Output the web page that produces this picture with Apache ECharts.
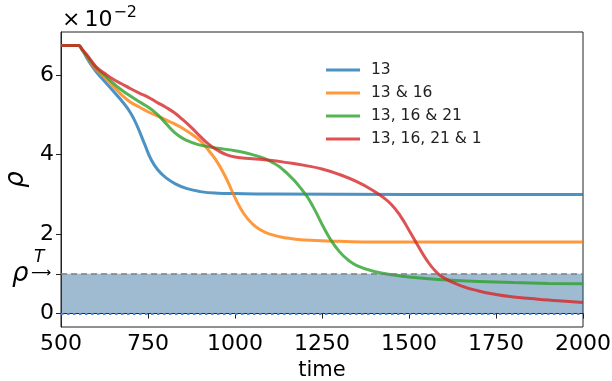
<!DOCTYPE html>
<html>
<head>
<meta charset="utf-8">
<script src="https://cdn.jsdelivr.net/npm/echarts@6/dist/echarts.min.js"></script>
<style>
  html, body { margin: 0; padding: 0; background: #fff; }
</style>
</head>
<body>
<div id="rhoChart" style="width: 612px; height: 381px;"></div>
<script>
  // time samples and rho values (x 1e-2) for each set of removed nodes
  const time13 = [500, 550, 560, 580, 600, 625, 650, 675, 700, 720, 740, 760, 780, 800, 830, 860, 900, 950, 1000, 1100, 1500, 2000];
  const rho13 = [6.75, 6.75, 6.65, 6.35, 6.1, 5.85, 5.6, 5.35, 5.05, 4.7, 4.27, 3.86, 3.6, 3.43, 3.26, 3.15, 3.07, 3.03, 3.02, 3.01, 3.0, 3.0];

  const time1316 = [500, 550, 560, 580, 600, 625, 650, 675, 700, 725, 750, 775, 800, 825, 850, 875, 900, 925, 950, 975, 1000, 1025, 1050, 1075, 1100, 1150, 1200, 1300, 1400, 2000];
  const rho1316 = [6.75, 6.75, 6.65, 6.4, 6.15, 5.95, 5.72, 5.5, 5.32, 5.2, 5.08, 4.98, 4.88, 4.78, 4.66, 4.52, 4.35, 4.1, 3.8, 3.4, 2.92, 2.52, 2.26, 2.1, 2.0, 1.9, 1.85, 1.82, 1.8, 1.8];

  const time131621 = [500, 550, 560, 580, 600, 625, 650, 675, 700, 725, 750, 775, 800, 825, 850, 875, 900, 950, 1000, 1050, 1100, 1150, 1200, 1225, 1250, 1275, 1300, 1325, 1350, 1400, 1450, 1500, 1600, 1700, 1800, 1900, 2000];
  const rho131621 = [6.75, 6.75, 6.65, 6.42, 6.2, 6.0, 5.8, 5.62, 5.47, 5.33, 5.2, 5.03, 4.8, 4.57, 4.41, 4.31, 4.24, 4.16, 4.1, 4.0, 3.84, 3.53, 3.03, 2.68, 2.25, 1.86, 1.56, 1.35, 1.21, 1.06, 0.98, 0.92, 0.85, 0.81, 0.78, 0.76, 0.75];

  const time1316211 = [500, 550, 560, 580, 600, 625, 650, 675, 700, 725, 750, 775, 800, 825, 850, 875, 900, 925, 950, 975, 1000, 1050, 1100, 1150, 1200, 1250, 1300, 1350, 1400, 1425, 1450, 1475, 1500, 1525, 1550, 1575, 1600, 1650, 1700, 1750, 1800, 1850, 1900, 1950, 2000];
  const rho1316211 = [6.75, 6.75, 6.66, 6.45, 6.22, 6.05, 5.9, 5.78, 5.66, 5.55, 5.45, 5.32, 5.2, 5.06, 4.88, 4.68, 4.46, 4.26, 4.11, 4.0, 3.94, 3.9, 3.86, 3.8, 3.73, 3.64, 3.5, 3.32, 3.08, 2.93, 2.74, 2.46, 2.1, 1.72, 1.36, 1.08, 0.9, 0.7, 0.57, 0.48, 0.42, 0.38, 0.34, 0.31, 0.28];

  const seriesNames = ['13', '13 & 16', '13, 16 & 21', '13, 16, 21 & 1'];
  const seriesColors = ['rgba(31,119,180,0.8)', 'rgba(255,127,14,0.8)', 'rgba(44,160,44,0.8)', 'rgba(214,39,40,0.8)'];

  const rhoThreshold = 1;
  const yTickLabels = [0, 2, 4, 6];
  const yTickMarks = [0, 1, 2, 4, 6];

  const font = 'DejaVu Sans';

  function pairs(ts, vs) {
    return ts.map((t, i) => [t, vs[i]]);
  }

  const allData = [
    pairs(time13, rho13),
    pairs(time1316, rho1316),
    pairs(time131621, rho131621),
    pairs(time1316211, rho1316211)
  ];

  let myChart = echarts.init(document.getElementById('rhoChart'));

  let series = allData.map((d, i) => ({
    name: seriesNames[i],
    type: 'line',
    data: d,
    smooth: 0.5,
    showSymbol: false,
    z: 2,
    lineStyle: { color: seriesColors[i], width: 3 },
    itemStyle: { color: seriesColors[i] }
  }));

  // shaded band below the threshold, drawn above the curves like the original
  series.push({
    name: 'band',
    type: 'line',
    data: [],
    z: 5,
    silent: true,
    markArea: {
      silent: true,
      itemStyle: { color: 'rgba(15,85,140,0.4)' },
      data: [[{ yAxis: 0 }, { yAxis: rhoThreshold }]]
    }
  });
  series.push({
    name: 'bounds',
    type: 'line',
    data: [],
    z: 6,
    silent: true,
    markLine: {
      silent: true,
      symbol: 'none',
      label: { show: false },
      data: [
        { yAxis: rhoThreshold, lineStyle: { color: '#7f7f7f', type: [6, 4], width: 1.5 } },
        { yAxis: 0, lineStyle: { color: '#4a7ff0', type: [2.5, 3.5], width: 2.2 } }
      ]
    }
  });

  myChart.setOption({
    animation: false,
    grid: {
      left: 61, right: 29, top: 32, bottom: 54,
      outerBoundsMode: 'none',
      containLabel: false,
      show: true, borderColor: '#222', borderWidth: 1, backgroundColor: 'transparent'
    },
    legend: {
      data: seriesNames,
      orient: 'vertical',
      left: 321,
      top: 57,
      icon: 'rect',
      itemWidth: 34,
      itemHeight: 3,
      itemGap: 7,
      textStyle: { fontFamily: font, fontSize: 15.5, color: '#222', padding: [0, 0, 0, 6] }
    },
    xAxis: {
      type: 'value',
      min: 500,
      max: 2000,
      interval: 250,
      name: 'time',
      nameLocation: 'middle',
      nameGap: 29,
      nameTextStyle: { fontFamily: font, fontSize: 21, color: '#000' },
      splitLine: { show: false },
      axisLine: { show: true, lineStyle: { color: '#222', width: 1 } },
      axisTick: { show: true, length: 5, lineStyle: { color: '#222' } },
      axisLabel: {
        fontFamily: font, fontSize: 22, color: '#000', margin: 6,
        showMinLabel: true, showMaxLabel: true, hideOverlap: false,
        formatter: v => String(v)
      }
    },
    yAxis: {
      type: 'value',
      min: -0.3375,
      max: 7.0875,
      name: 'ρ',
      nameLocation: 'middle',
      nameRotate: 90,
      nameGap: 27,
      nameTextStyle: { fontFamily: font, fontSize: 26, fontStyle: 'italic', color: '#000' },
      splitLine: { show: false },
      axisLine: { show: true, lineStyle: { color: '#222', width: 1 } },
      axisTick: { show: true, length: 5, lineStyle: { color: '#222' }, customValues: yTickMarks },
      axisLabel: { fontFamily: font, fontSize: 22, color: '#000', margin: 7, customValues: yTickLabels }
    },
    graphic: [
      {
        type: 'text',
        left: 62,
        top: 5,
        style: {
          text: '{x|×}{a|10}{b|−2}',
          rich: {
            x: { fontFamily: font, fontSize: 22, fill: '#000', verticalAlign: 'bottom', lineHeight: 26, padding: [0, 4, 0, 0] },
            a: { fontFamily: font, fontSize: 22, fill: '#000', verticalAlign: 'bottom', lineHeight: 26 },
            b: { fontFamily: font, fontSize: 16, fill: '#000', verticalAlign: 'top', lineHeight: 26, padding: [0, 0, 10, 1] }
          }
        }
      },
      {
        type: 'text',
        left: 12,
        top: 261,
        style: { text: 'ρ', fontFamily: font, fontSize: 26, fontStyle: 'italic', fill: '#000' }
      },
      {
        type: 'text',
        left: 34,
        top: 249,
        style: { text: 'T', fontFamily: font, fontSize: 17, fontStyle: 'italic', fill: '#000' }
      },
      {
        type: 'text',
        left: 31,
        top: 266,
        style: { text: '⟶', fontFamily: font, fontSize: 14, fill: '#000' }
      }
    ],
    series: series
  });
</script>
</body>
</html>
